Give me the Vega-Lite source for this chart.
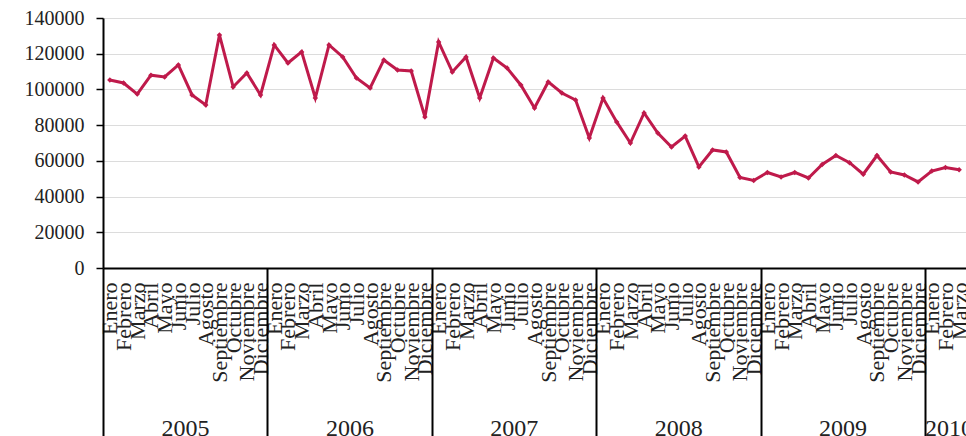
{
  "$schema": "https://vega.github.io/schema/vega-lite/v6.json",
  "autosize": {"type": "none"},
  "padding": {"left": 103, "top": 18, "right": 0, "bottom": 168},
  "width": 863,
  "height": 250,
  "background": "white",
  "config": {"view": {"stroke": null}, "font": "Liberation Serif"},
  "data": {"values": [
    {"periodo": "2005-01", "valor": 105300}, {"periodo": "2005-02", "valor": 103600}, {"periodo": "2005-03", "valor": 97400},
    {"periodo": "2005-04", "valor": 108000}, {"periodo": "2005-05", "valor": 107000}, {"periodo": "2005-06", "valor": 113700},
    {"periodo": "2005-07", "valor": 96900}, {"periodo": "2005-08", "valor": 91300}, {"periodo": "2005-09", "valor": 130500},
    {"periodo": "2005-10", "valor": 101400}, {"periodo": "2005-11", "valor": 109200}, {"periodo": "2005-12", "valor": 96900},
    {"periodo": "2006-01", "valor": 124900}, {"periodo": "2006-02", "valor": 114800}, {"periodo": "2006-03", "valor": 121000},
    {"periodo": "2006-04", "valor": 95200}, {"periodo": "2006-05", "valor": 124900}, {"periodo": "2006-06", "valor": 118200},
    {"periodo": "2006-07", "valor": 106400}, {"periodo": "2006-08", "valor": 100800}, {"periodo": "2006-09", "valor": 116500},
    {"periodo": "2006-10", "valor": 110900}, {"periodo": "2006-11", "valor": 110300}, {"periodo": "2006-12", "valor": 84600},
    {"periodo": "2007-01", "valor": 126600}, {"periodo": "2007-02", "valor": 109800}, {"periodo": "2007-03", "valor": 118200},
    {"periodo": "2007-04", "valor": 95200}, {"periodo": "2007-05", "valor": 117600}, {"periodo": "2007-06", "valor": 112000},
    {"periodo": "2007-07", "valor": 102500}, {"periodo": "2007-08", "valor": 89600}, {"periodo": "2007-09", "valor": 104200},
    {"periodo": "2007-10", "valor": 98000}, {"periodo": "2007-11", "valor": 94100}, {"periodo": "2007-12", "valor": 72800},
    {"periodo": "2008-01", "valor": 95200}, {"periodo": "2008-02", "valor": 81800}, {"periodo": "2008-03", "valor": 70000},
    {"periodo": "2008-04", "valor": 86800}, {"periodo": "2008-05", "valor": 75600}, {"periodo": "2008-06", "valor": 67800},
    {"periodo": "2008-07", "valor": 73900}, {"periodo": "2008-08", "valor": 56600}, {"periodo": "2008-09", "valor": 66100},
    {"periodo": "2008-10", "valor": 65000}, {"periodo": "2008-11", "valor": 50700}, {"periodo": "2008-12", "valor": 49000},
    {"periodo": "2009-01", "valor": 53500}, {"periodo": "2009-02", "valor": 51000}, {"periodo": "2009-03", "valor": 53500},
    {"periodo": "2009-04", "valor": 50400}, {"periodo": "2009-05", "valor": 58000}, {"periodo": "2009-06", "valor": 63000},
    {"periodo": "2009-07", "valor": 59000}, {"periodo": "2009-08", "valor": 52500}, {"periodo": "2009-09", "valor": 63000},
    {"periodo": "2009-10", "valor": 53800}, {"periodo": "2009-11", "valor": 52100}, {"periodo": "2009-12", "valor": 48200},
    {"periodo": "2010-01", "valor": 54300}, {"periodo": "2010-02", "valor": 56300}, {"periodo": "2010-03", "valor": 55000}
  ]},
  "layer": [
    {
      "mark": {"type": "line", "color": "#bf1a4b", "strokeWidth": 3},
      "encoding": {
        "x": {
          "field": "periodo", "type": "ordinal",
          "scale": {"paddingInner": 0, "paddingOuter": 0},
          "axis": {
            "orient": "bottom", "title": null, "labelAngle": 270, "labelAlign": "right", "labelBaseline": "middle",
            "labelFontSize": 22, "labelFont": "Liberation Serif", "labelColor": "#222", "labelPadding": 14,
            "ticks": false, "domainColor": "#000", "domainWidth": 2, "labelOverlap": false, "grid": false,
            "labelExpr": "['Enero','Febrero','Marzo','Abril','Mayo','Junio','Julio','Agosto','Septiembre','Octubre','Noviembre','Diciembre'][toNumber(substring(datum.value,5,7))-1]"
          }
        },
        "y": {
          "field": "valor", "type": "quantitative",
          "scale": {"domain": [0, 140000]},
          "axis": {
            "title": null, "values": [0, 20000, 40000, 60000, 80000, 100000, 120000, 140000], "format": "d",
            "labelOverlap": false, "labelBound": false,
            "grid": true, "gridColor": "#dcdcdc", "gridWidth": 1, "domainColor": "#000", "domainWidth": 2,
            "tickColor": "#000", "tickSize": 7, "tickWidth": 1.5, "labelFontSize": 20, "labelFont": "Liberation Serif",
            "labelColor": "#222", "labelPadding": 12
          }
        }
      }
    },
    {
      "mark": {"type": "point", "filled": true, "color": "#bf1a4b", "size": 30, "shape": "diamond", "opacity": 1},
      "encoding": {
        "x": {
          "field": "periodo", "type": "ordinal",
          "axis": {
            "orient": "bottom", "title": null, "labels": false, "domain": false, "grid": false,
            "ticks": true, "tickSize": 170, "tickWidth": 2, "tickColor": "#000", "tickOffset": -6.85,
            "tickOpacity": {"condition": {"test": "substring(datum.value,5,7)=='01'", "value": 1}, "value": 0}
          }
        },
        "y": {"field": "valor", "type": "quantitative", "axis": null}
      }
    },
    {
      "mark": {"type": "point", "opacity": 0},
      "encoding": {
        "x": {
          "field": "periodo", "type": "ordinal",
          "axis": {
            "orient": "bottom", "title": null, "ticks": false, "domain": false, "grid": false,
            "labelAngle": 0, "labelAlign": "center", "labelBaseline": "top", "labelPadding": 148,
            "labelFontSize": 24, "labelFont": "Liberation Serif", "labelColor": "#222", "labelOverlap": false, "labelBound": false,
            "labelExpr": "(substring(datum.value,5,7)=='07' || datum.value=='2010-02') ? substring(datum.value,0,4) : ''",
            "labelOffset": {"condition": {"test": "substring(datum.value,5,7)=='07'", "value": -7}, "value": 3}
          }
        },
        "y": {"field": "valor", "type": "quantitative", "axis": null}
      }
    }
  ],
  "resolve": {"axis": {"x": "independent", "y": "independent"}}
}
